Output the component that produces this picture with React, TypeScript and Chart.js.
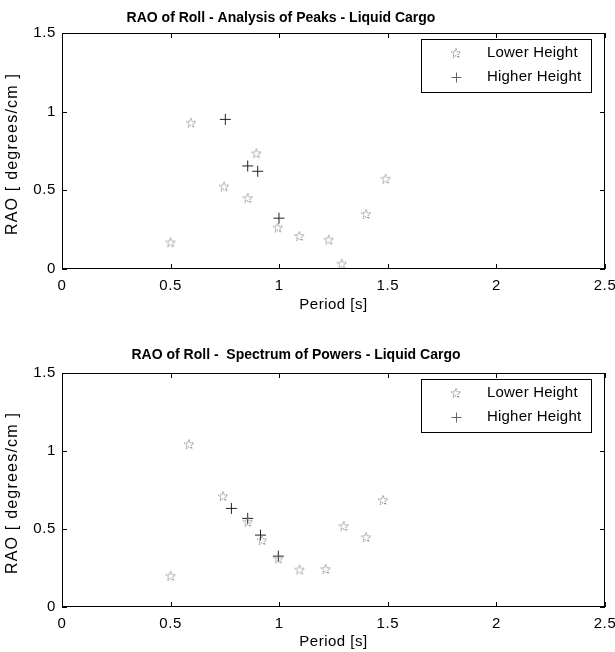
import React, { useEffect, useRef } from "react";
import { Chart, registerables } from "chart.js";

Chart.register(...registerables);

// ---- Data ----
const titleA = "RAO of Roll - Analysis of Peaks - Liquid Cargo";
const titleB = "RAO of Roll -  Spectrum of Powers - Liquid Cargo";
const seriesNames = ["Lower Height", "Higher Height"];
const xAxisTitle = "Period [s]";
const yAxisTitle = "RAO [ degrees/cm ]";
const xTickValues = [0, 0.5, 1, 1.5, 2, 2.5];
const xTickLabels = ["0", "0.5", "1", "1.5", "2", "2.5"];
const yTickValues = [0, 0.5, 1, 1.5];
const yTickLabels = ["0", "0.5", "1", "1.5"];

// Analysis of peaks
const periodLowerA = [0.5, 0.594, 0.746, 0.855, 0.895, 0.994, 1.093, 1.228, 1.288, 1.4, 1.49];
const raoLowerA = [0.17, 0.93, 0.525, 0.451, 0.736, 0.264, 0.21, 0.187, 0.034, 0.35, 0.574];
const periodHigherA = [0.752, 0.855, 0.901, 0.999];
const raoHigherA = [0.951, 0.655, 0.621, 0.323];

// Spectrum of powers
const periodLowerB = [0.5, 0.585, 0.741, 0.855, 0.921, 0.996, 1.094, 1.214, 1.297, 1.4, 1.478];
const raoLowerB = [0.2, 1.044, 0.711, 0.546, 0.429, 0.311, 0.24, 0.244, 0.519, 0.448, 0.686];
const periodHigherB = [0.78, 0.855, 0.914, 0.996];
const raoHigherB = [0.632, 0.568, 0.461, 0.326];

const FONT = "'Liberation Sans', Arial, sans-serif";

function makeStar(): HTMLCanvasElement {
  const c = document.createElement("canvas");
  const s = 12;
  c.width = s;
  c.height = s;
  const ctx = c.getContext("2d")!;
  const cx = s / 2, cy = s / 2 + 0.5;
  const ro = 5, ri = 2.1;
  ctx.beginPath();
  for (let i = 0; i < 10; i++) {
    const r = i % 2 === 0 ? ro : ri;
    const a = -Math.PI / 2 + (i * Math.PI) / 5;
    const px = cx + r * Math.cos(a);
    const py = cy + r * Math.sin(a);
    if (i === 0) ctx.moveTo(px, py);
    else ctx.lineTo(px, py);
  }
  ctx.closePath();
  ctx.strokeStyle = "#808080";
  ctx.lineWidth = 1;
  ctx.setLineDash([1.5, 1]);
  ctx.stroke();
  return c;
}

type PanelProps = {
  title: string;
  titleX: number;
  titleY: number;
  padTop: number;
  xAxisHeight: number;
  xTitleOffset: number;
  periodLower: number[];
  raoLower: number[];
  periodHigher: number[];
  raoHigher: number[];
};

function Panel(p: PanelProps) {
  const ref = useRef<HTMLCanvasElement>(null);
  useEffect(() => {
    const star = makeStar();
    const decor = {
      id: "decor",
      beforeDraw(chart: any) {
        (chart.ctx as any).letterSpacing = "0.6px";
      },
      afterDraw(chart: any) {
        const { ctx, chartArea } = chart;
        const { left, right, top, bottom } = chartArea;
        const xs = chart.scales.x;
        const ys = chart.scales.y;
        ctx.save();
        ctx.strokeStyle = "#000";
        ctx.lineWidth = 1;
        ctx.strokeRect(left + 0.5, top + 0.5, right - left - 1, bottom - top - 1);
        const tl = 5;
        ctx.beginPath();
        xTickValues.forEach((v) => {
          const px = Math.round(xs.getPixelForValue(v)) + 0.5;
          ctx.moveTo(px, bottom);
          ctx.lineTo(px, bottom - tl);
          ctx.moveTo(px, top);
          ctx.lineTo(px, top + tl);
        });
        yTickValues.forEach((v) => {
          const py = Math.round(ys.getPixelForValue(v)) + 0.5;
          ctx.moveTo(left, py);
          ctx.lineTo(left + tl, py);
          ctx.moveTo(right, py);
          ctx.lineTo(right - tl, py);
        });
        ctx.stroke();
        // title
        ctx.fillStyle = "#000";
        (ctx as any).letterSpacing = "0px";
        ctx.font = `bold 14px ${FONT}`;
        ctx.textAlign = "center";
        ctx.textBaseline = "middle";
        ctx.fillText(p.title, p.titleX, p.titleY);
        // axis titles
        (ctx as any).letterSpacing = "0.5px";
        ctx.font = `15px ${FONT}`;
        ctx.fillText(xAxisTitle, (left + right) / 2, bottom + p.xTitleOffset);
        ctx.save();
        (ctx as any).letterSpacing = "1.2px";
        ctx.font = `16px ${FONT}`;
        ctx.translate(13, (top + bottom) / 2 + 3);
        ctx.rotate(-Math.PI / 2);
        ctx.fillText(yAxisTitle, 0, 0);
        ctx.restore();
        // legend box
        (ctx as any).letterSpacing = "0.2px";
        const bw = 170, bh = 53;
        const bx = right - 14 - bw;
        const by = top + 6;
        ctx.fillStyle = "#fff";
        ctx.fillRect(bx, by, bw, bh);
        ctx.strokeStyle = "#000";
        ctx.strokeRect(bx + 0.5, by + 0.5, bw, bh);
        ctx.font = `15px ${FONT}`;
        ctx.textAlign = "left";
        ctx.fillStyle = "#000";
        const rows = [by + 14, by + 38];
        ctx.fillText(seriesNames[0], bx + 66, rows[0]);
        ctx.fillText(seriesNames[1], bx + 66, rows[1]);
        ctx.drawImage(star, bx + 35 - star.width / 2, rows[0] - star.height / 2);
        ctx.strokeStyle = "#666";
        ctx.beginPath();
        const mx = bx + 35.5, my = Math.round(rows[1]) + 0.5;
        ctx.moveTo(mx - 5, my);
        ctx.lineTo(mx + 5, my);
        ctx.moveTo(mx, my - 5);
        ctx.lineTo(mx, my + 5);
        ctx.stroke();
        ctx.restore();
        (ctx as any).letterSpacing = "0px";
      },
    };
    const chart = new Chart(ref.current!, {
      type: "scatter",
      data: {
        datasets: [
          {
            label: seriesNames[0],
            data: p.periodLower.map((x, i) => ({ x, y: p.raoLower[i] })),
            pointStyle: star as any,
            pointRadius: 6,
          },
          {
            label: seriesNames[1],
            data: p.periodHigher.map((x, i) => ({ x, y: p.raoHigher[i] })),
            pointStyle: "cross",
            pointRadius: 5.5,
            borderColor: "#222",
            backgroundColor: "#222",
            borderWidth: 1,
          },
        ],
      },
      options: {
        animation: false,
        responsive: false,
        devicePixelRatio: 1,
        layout: { padding: { left: 0, right: 10, top: p.padTop, bottom: 0 } },
        plugins: {
          legend: { display: false },
          title: { display: false },
          tooltip: { enabled: false },
        },
        scales: {
          x: {
            type: "linear",
            min: 0,
            max: 2.5,
            afterFit: (s: any) => {
              s.height = p.xAxisHeight;
              s.paddingLeft = 0;
              s.paddingRight = 0;
            },
            afterBuildTicks: (s: any) => {
              s.ticks = xTickValues.map((v) => ({ value: v }));
            },
            grid: { display: false, drawTicks: false },
            border: { display: false },
            ticks: {
              padding: 8,
              color: "#000",
              font: { family: FONT, size: 15 },
              maxRotation: 0,
              autoSkip: false,
              callback: (v: any) => xTickLabels[xTickValues.indexOf(Number(v))] ?? "",
            },
          },
          y: {
            type: "linear",
            min: 0,
            max: 1.5,
            afterFit: (s: any) => {
              s.width = 62;
              s.paddingTop = 0;
              s.paddingBottom = 0;
            },
            afterBuildTicks: (s: any) => {
              s.ticks = yTickValues.map((v) => ({ value: v }));
            },
            grid: { display: false, drawTicks: false },
            border: { display: false },
            ticks: {
              padding: 6,
              color: "#000",
              font: { family: FONT, size: 15 },
              autoSkip: false,
              callback: (v: any) => yTickLabels[yTickValues.indexOf(Number(v))] ?? "",
            },
          },
        },
      },
      plugins: [decor],
    });
    return () => chart.destroy();
  }, []);
  return (
    <div style={{ width: 615, height: 326 }}>
      <canvas ref={ref} width={615} height={326} style={{ display: "block" }} />
    </div>
  );
}

export default function App() {
  return (
    <div style={{ position: "absolute", left: 0, top: 0, width: 615, height: 652, background: "#fff" }}>
      <Panel
        title={titleA}
        titleX={281}
        titleY={18}
        padTop={33}
        xAxisHeight={57}
        xTitleOffset={36}
        periodLower={periodLowerA}
        raoLower={raoLowerA}
        periodHigher={periodHigherA}
        raoHigher={raoHigherA}
      />
      <Panel
        title={titleB}
        titleX={296}
        titleY={29}
        padTop={47}
        xAxisHeight={45}
        xTitleOffset={35}
        periodLower={periodLowerB}
        raoLower={raoLowerB}
        periodHigher={periodHigherB}
        raoHigher={raoHigherB}
      />
    </div>
  );
}
